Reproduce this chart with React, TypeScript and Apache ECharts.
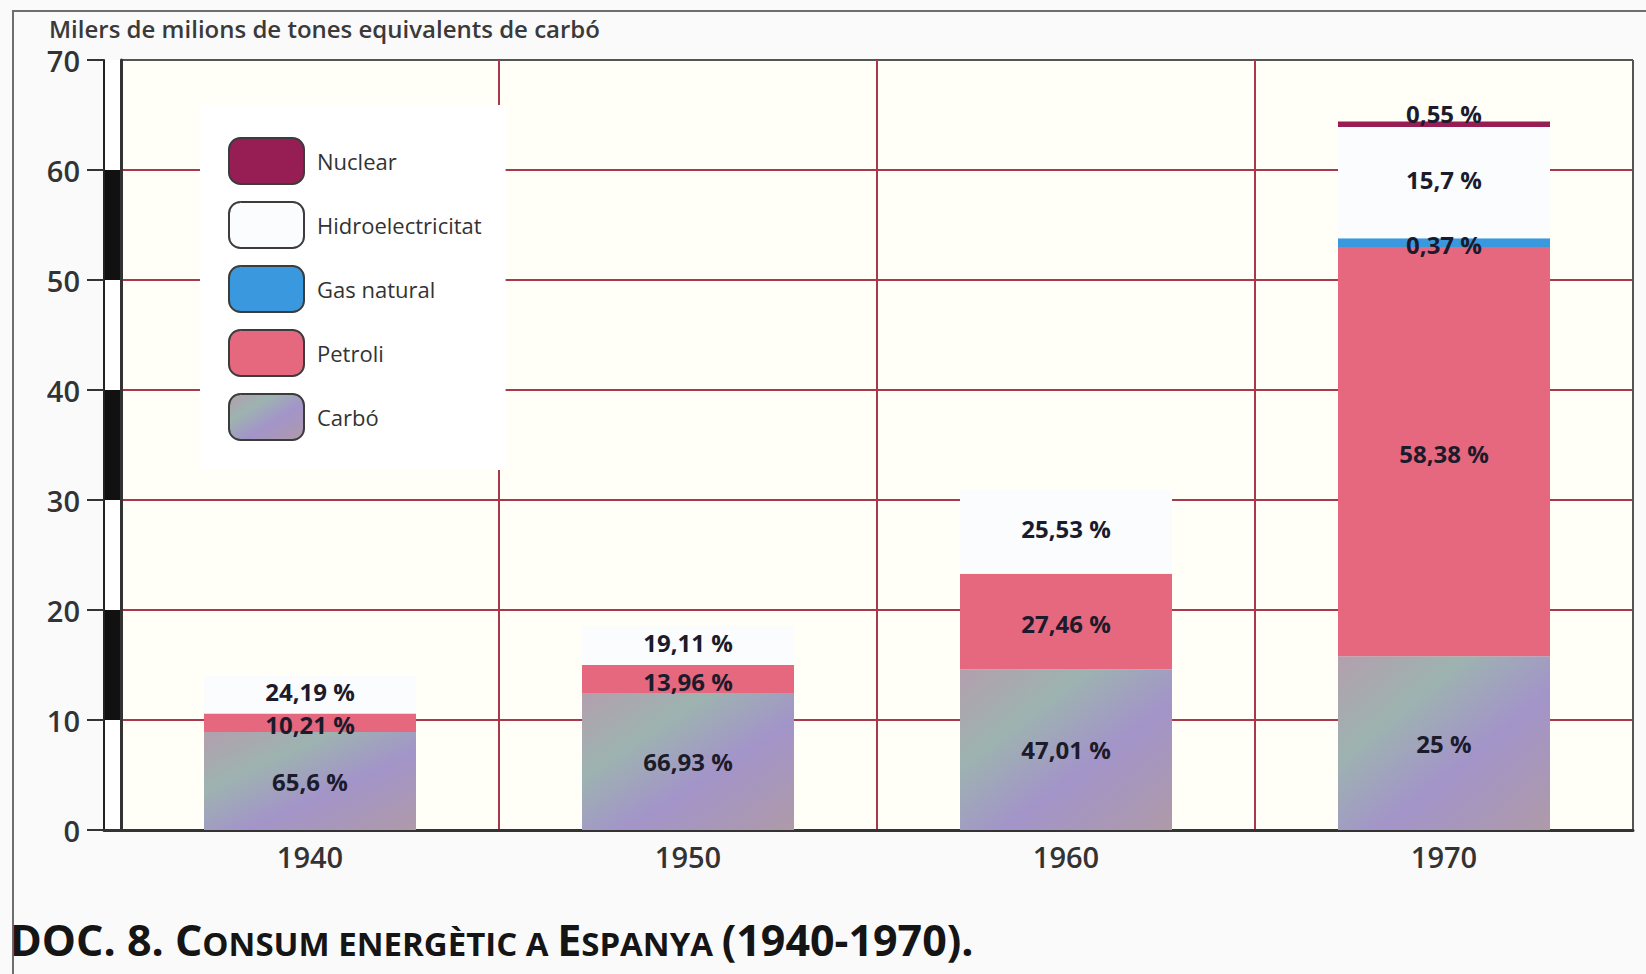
import React, { useEffect, useRef } from 'react';
import * as echarts from 'echarts';

const years = ['1940', '1950', '1960', '1970'];
// Milers de milions de tones equivalents de carbó
const carbo = [8.9, 12.45, 14.6, 15.8];
const petroli = [1.7, 2.55, 8.7, 37.2];
const gasNatural = [0, 0, 0, 0.8];
const hidro = [3.4, 3.5, 7.6, 10.1];
const nuclear = [0, 0, 0, 0.5];

const carboPct = ['65,6 %', '66,93 %', '47,01 %', '25 %'];
const petroliPct = ['10,21 %', '13,96 %', '27,46 %', '58,38 %'];
const gasPct = ['', '', '', '0,37 %'];
const hidroPct = ['24,19 %', '19,11 %', '25,53 %', '15,7 %'];
const nuclearPct = ['', '', '', '0,55 %'];

const legendOrder = ['Nuclear', 'Hidroelectricitat', 'Gas natural', 'Petroli', 'Carbó'];
const yMin = 0;
const yMax = 70;
const yStep = 10;

const FONT = '"Open Sans", "DejaVu Sans", sans-serif';
const RED = '#a8384c';

export default function App() {
  const ref = useRef<HTMLDivElement>(null);

  useEffect(() => {
    const chart = echarts.init(ref.current!, undefined, { renderer: 'svg' });

    const carboColor = new echarts.graphic.LinearGradient(0, 0, 1, 1, [
      { offset: 0, color: '#b39fae' },
      { offset: 0.3, color: '#9db3b0' },
      { offset: 0.6, color: '#a394c9' },
      { offset: 1, color: '#ae9aa8' },
    ]);

    const defs = [
      { name: 'Carbó', data: carbo, labels: carboPct, color: carboColor, pos: 'inside', offset: [0, 0] },
      { name: 'Petroli', data: petroli, labels: petroliPct, color: '#e6687f', pos: 'inside', offset: [0, 2] },
      { name: 'Gas natural', data: gasNatural, labels: gasPct, color: '#3a98de', pos: 'inside', offset: [0, 2] },
      { name: 'Hidroelectricitat', data: hidro, labels: hidroPct, color: '#fafcfe', pos: 'inside', offset: [0, -3] },
      { name: 'Nuclear', data: nuclear, labels: nuclearPct, color: '#971d55', pos: 'top', offset: [0, 0] },
    ];

    const series: any[] = defs.map((d) => ({
      name: d.name,
      type: 'bar',
      stack: 'total',
      xAxisIndex: 0,
      yAxisIndex: 0,
      barWidth: 212,
      data: d.data,
      itemStyle: { color: d.color },
      emphasis: { disabled: true },
      label: {
        show: true,
        position: d.pos,
        offset: d.offset,
        distance: d.pos === 'top' ? -3 : 5,
        formatter: (p: any) => d.labels[p.dataIndex],
        fontFamily: FONT,
        fontSize: 24,
        lineHeight: 22,
        fontWeight: 'bold',
        color: '#1b1b2b',
      },
    }));

    const ySplitColors = ['#333', RED, RED, RED, RED, RED, RED, '#555'];
    const xSplitColors = ['#333', RED, RED, RED, '#555'];

    chart.setOption({
      animation: false,
      backgroundColor: '#fafafb',
      textStyle: { fontFamily: FONT },
      grid: [
        { left: 121, right: 13, top: 60, bottom: 144, show: true, backgroundColor: '#fffef7', borderWidth: 0 },
        { left: 104, width: 17, top: 60, bottom: 144 },
      ],
      legend: {
        data: legendOrder,
        orient: 'vertical',
        left: 200,
        top: 105,
        itemWidth: 75,
        itemHeight: 46,
        itemGap: 16,
        padding: [32, 24, 29, 28],
        backgroundColor: '#ffffff',
        icon: 'roundRect',
        itemStyle: { borderColor: '#3c3c3c', borderWidth: 2 },
        selectedMode: false,
        textStyle: { fontFamily: FONT, fontSize: 22, color: '#333', padding: [0, 0, 0, 8] },
      },
      xAxis: [
        {
          type: 'category',
          gridIndex: 0,
          data: years,
          axisLine: { lineStyle: { color: '#333', width: 3 } },
          axisTick: { show: false },
          axisLabel: { fontFamily: FONT, fontSize: 29, fontWeight: 600, color: '#333', margin: 12 },
          splitLine: { show: true, lineStyle: { color: xSplitColors, width: 2 } },
        },
        {
          type: 'category',
          gridIndex: 1,
          data: [''],
          axisLine: { lineStyle: { color: '#333', width: 3 } },
          axisTick: { show: false },
          axisLabel: { show: false },
        },
      ],
      yAxis: [
        {
          type: 'value',
          gridIndex: 0,
          min: yMin,
          max: yMax,
          interval: yStep,
          axisLine: { show: true, lineStyle: { color: '#333', width: 3 } },
          axisTick: { show: false },
          axisLabel: { fontFamily: FONT, fontSize: 29, fontWeight: 600, color: '#333', margin: 41 },
          splitLine: { show: true, lineStyle: { color: ySplitColors, width: 2 } },
        },
        {
          type: 'value',
          gridIndex: 1,
          min: yMin,
          max: yMax,
          interval: yStep,
          axisLine: { show: true, lineStyle: { color: '#222', width: 2 } },
          axisTick: { show: true, length: 17, lineStyle: { color: '#333', width: 2 } },
          axisLabel: { show: false },
          splitLine: { show: false },
          splitArea: { show: true, areaStyle: { color: ['#ffffff', '#111111'] } },
        },
      ],
      series,
      graphic: [
        {
          type: 'polyline',
          shape: { points: [[13, 974], [13, 11], [1646, 11]] },
          style: { stroke: '#6e6e6e', lineWidth: 2, fill: null },
          silent: true,
        },
        {
          type: 'text',
          left: 49,
          top: 16,
          style: {
            text: 'Milers de milions de tones equivalents de carbó',
            fontFamily: FONT,
            fontSize: 24,
            fontWeight: 600,
            fill: '#3a3a3a',
          },
        },
        {
          type: 'text',
          left: 10,
          top: 918,
          style: {
            text: '{b|DOC. 8. C}{s|ONSUM ENERGÈTIC A }{b|E}{s|SPANYA }{b|(1940-1970).}',
            fill: '#151515',
            rich: {
              b: { fontFamily: FONT, fontSize: 43, fontWeight: 'bold', lineHeight: 44, verticalAlign: 'bottom', fill: '#151515' },
              s: { fontFamily: FONT, fontSize: 33, fontWeight: 'bold', lineHeight: 44, verticalAlign: 'bottom', fill: '#151515', padding: [0, 0, 1, 0] },
            },
          },
        },
      ],
    });

    return () => chart.dispose();
  }, []);

  return (
    <div
      ref={ref}
      style={{ position: 'absolute', left: 0, top: 0, width: 1646, height: 974 }}
    />
  );
}
